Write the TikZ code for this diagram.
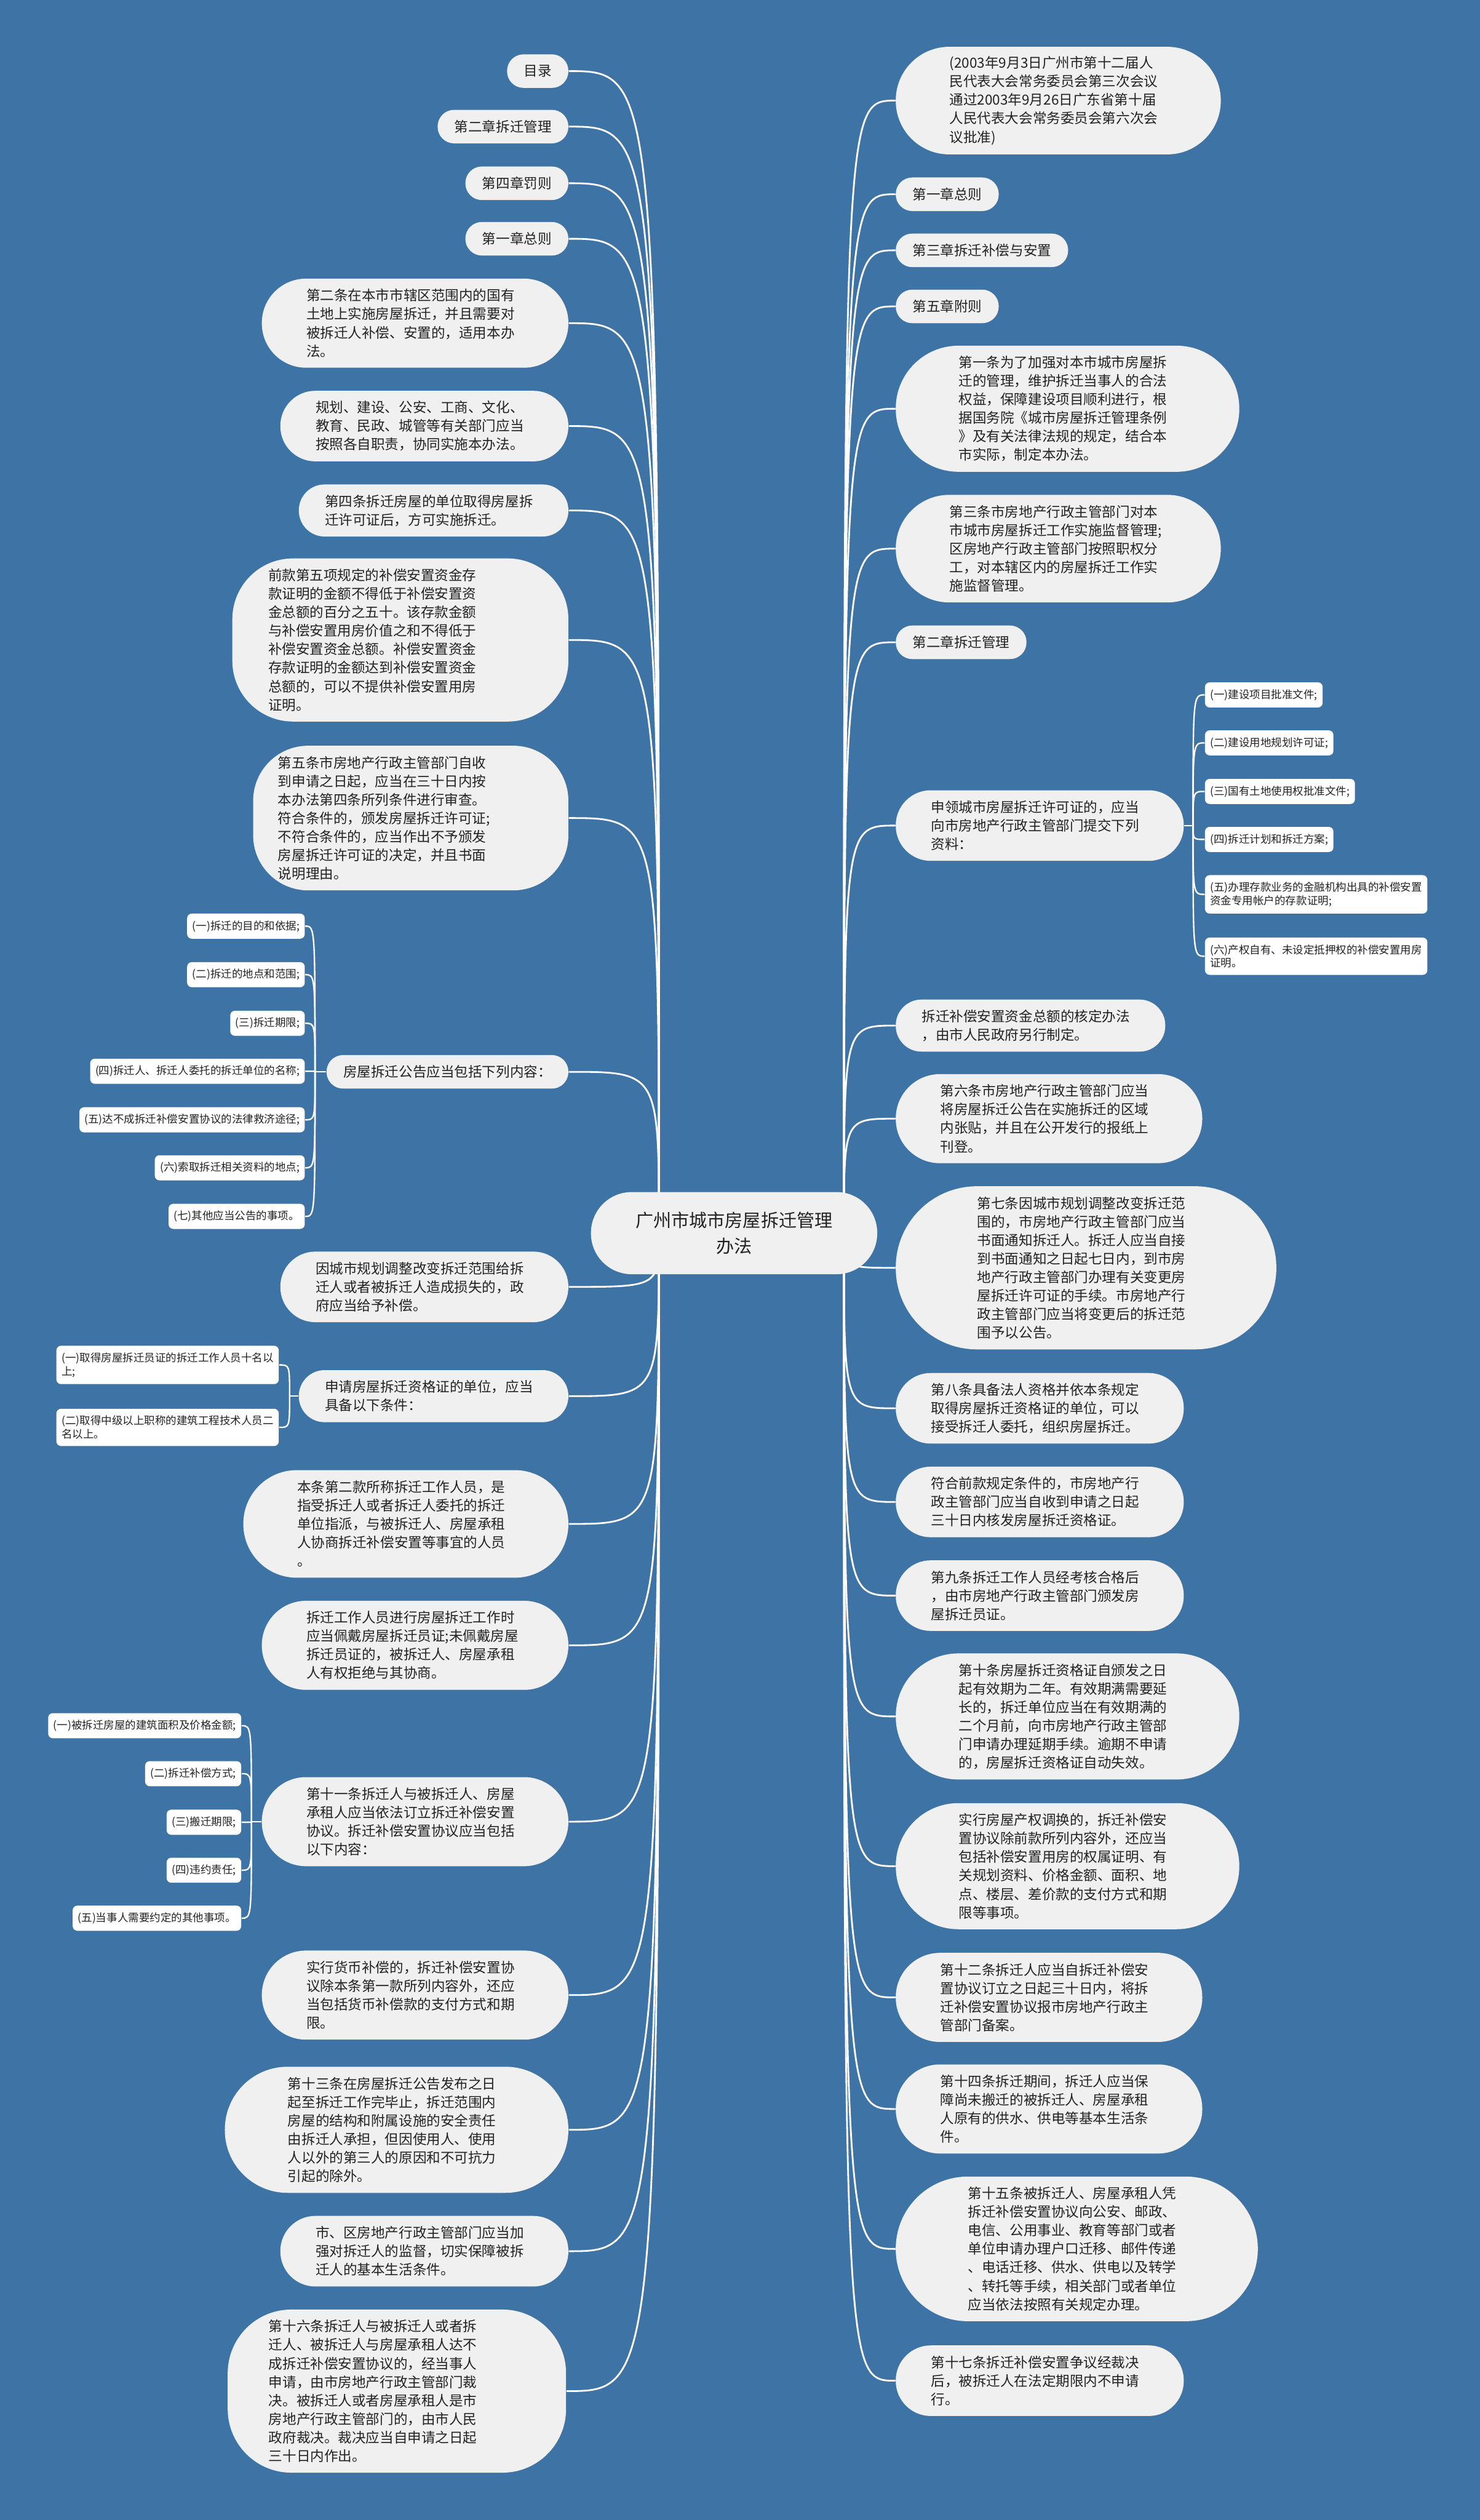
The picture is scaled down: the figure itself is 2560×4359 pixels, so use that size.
\documentclass[tikz,border=0pt]{standalone}
\usepackage{fontspec}
\setmainfont{Noto Sans CJK SC}
\usetikzlibrary{backgrounds}
\definecolor{mapblue}{RGB}{61,115,165}
\definecolor{topicfill}{RGB}{240,240,240}
\definecolor{topictext}{RGB}{34,34,34}
\tikzset{
  root/.style={rectangle, fill=topicfill, text=topictext, align=center, minimum height=1.42cm,
    rounded corners=0.705cm, inner xsep=0.77cm, inner ysep=0pt, font=\fontsize{8.82pt}{12.5pt}\selectfont},
  topic/.style={rectangle, fill=topicfill, text=topictext, align=left, inner ysep=0pt,
    font=\fontsize{6.83pt}{9.1pt}\selectfont},
  h1/.style={minimum height=0.58cm, rounded corners=0.285cm, inner xsep=0.29cm},
  h2/.style={minimum height=0.90cm, rounded corners=0.445cm, inner xsep=0.45cm, text width=3.76cm},
  h3/.style={minimum height=1.22cm, rounded corners=0.605cm, inner xsep=0.61cm, text width=3.76cm},
  h4/.style={minimum height=1.54cm, rounded corners=0.765cm, inner xsep=0.77cm, text width=3.76cm},
  h5/.style={minimum height=1.86cm, rounded corners=0.925cm, inner xsep=0.93cm, text width=3.76cm},
  h6/.style={minimum height=2.18cm, rounded corners=1.085cm, inner xsep=1.09cm, text width=3.76cm},
  h7/.style={minimum height=2.50cm, rounded corners=1.245cm, inner xsep=1.25cm, text width=3.76cm},
  h8/.style={minimum height=2.82cm, rounded corners=1.405cm, inner xsep=1.41cm, text width=3.76cm},
  ltopic/.style={topic, anchor=east, #1},
  rtopic/.style={topic, anchor=west, #1},
  leaf/.style={rectangle, rounded corners=0.08cm, fill=white, text=topictext, align=left,
    inner xsep=0.09cm, inner ysep=0.12cm, font=\fontsize{5.3pt}{6.55pt}\selectfont},
  lleaf/.style={leaf, anchor=east},
  rleaf/.style={leaf, anchor=west},
  link/.style={draw=white, line width=0.03cm},
  twig/.style={draw=white, line width=0.025cm}
}

\begin{document}
\begin{tikzpicture}[x=0.01cm, y=-0.01cm]
\useasboundingbox (0,0) rectangle (2560,4359);
\node[root] (root) at (1270,2133) {广州市城市房屋拆迁管理\\办法};

% left side
\node[ltopic=h1] (mulu) at (984,123) {目录};
\node[ltopic=h1] (zhangerl) at (984,219) {第二章拆迁管理};
\node[ltopic=h1] (zhangsi) at (984,317) {第四章罚则};
\node[ltopic=h1] (zhangyil) at (984,413) {第一章总则};
\node[ltopic=h4] (tiaoer) at (984,559) {第二条在本市市辖区范围内的国有\\土地上实施房屋拆迁，并且需要对\\被拆迁人补偿、安置的，适用本办\\法。};
\node[ltopic=h3] (guihua) at (984,737) {规划、建设、公安、工商、文化、\\教育、民政、城管等有关部门应当\\按照各自职责，协同实施本办法。};
\node[ltopic=h2] (tiaosi) at (984,883) {第四条拆迁房屋的单位取得房屋拆\\迁许可证后，方可实施拆迁。};
\node[ltopic={h8, inner xsep=0.62cm, text width=4.57cm, rounded corners=1.05cm}] (qiankuan) at (984,1107) {前款第五项规定的补偿安置资金存\\款证明的金额不得低于补偿安置资\\金总额的百分之五十。该存款金额\\与补偿安置用房价值之和不得低于\\补偿安置资金总额。补偿安置资金\\存款证明的金额达到补偿安置资金\\总额的，可以不提供补偿安置用房\\证明。};
\node[ltopic={h7, inner xsep=0.43cm, text width=4.59cm, rounded corners=0.95cm}] (tiaowu) at (984,1415) {第五条市房地产行政主管部门自收\\到申请之日起，应当在三十日内按\\本办法第四条所列条件进行审查。\\符合条件的，颁发房屋拆迁许可证;\\不符合条件的，应当作出不予颁发\\房屋拆迁许可证的决定，并且书面\\说明理由。};
\node[ltopic=h1] (gonggao) at (984,1854) {房屋拆迁公告应当包括下列内容：};
\node[lleaf] (gg1) at (528,1602) {(一)拆迁的目的和依据;};
\node[lleaf] (gg2) at (528,1686) {(二)拆迁的地点和范围;};
\node[lleaf] (gg3) at (528,1770) {(三)拆迁期限;};
\node[lleaf] (gg4) at (528,1853) {(四)拆迁人、拆迁人委托的拆迁单位的名称;};
\node[lleaf] (gg5) at (528,1937) {(五)达不成拆迁补偿安置协议的法律救济途径;};
\node[lleaf] (gg6) at (528,2020) {(六)索取拆迁相关资料的地点;};
\node[lleaf] (gg7) at (528,2104) {(七)其他应当公告的事项。};
\node[ltopic=h3] (yinchengshi) at (984,2226) {因城市规划调整改变拆迁范围给拆\\迁人或者被拆迁人造成损失的，政\\府应当给予补偿。};
\node[ltopic=h2] (shenqing) at (984,2415) {申请房屋拆迁资格证的单位，应当\\具备以下条件：};
\node[lleaf] (zg1) at (483,2361) {(一)取得房屋拆迁员证的拆迁工作人员十名以\\上;};
\node[lleaf] (zg2) at (483,2469) {(二)取得中级以上职称的建筑工程技术人员二\\名以上。};
\node[ltopic=h5] (benkuan) at (984,2636) {本条第二款所称拆迁工作人员，是\\指受拆迁人或者拆迁人委托的拆迁\\单位指派，与被拆迁人、房屋承租\\人协商拆迁补偿安置等事宜的人员\\。};
\node[ltopic=h4] (gongzuo) at (984,2846) {拆迁工作人员进行房屋拆迁工作时\\应当佩戴房屋拆迁员证;未佩戴房屋\\拆迁员证的，被拆迁人、房屋承租\\人有权拒绝与其协商。};
\node[ltopic=h4] (tiaoshiyi) at (984,3151) {第十一条拆迁人与被拆迁人、房屋\\承租人应当依法订立拆迁补偿安置\\协议。拆迁补偿安置协议应当包括\\以下内容：};
\node[lleaf] (xy1) at (418,2985) {(一)被拆迁房屋的建筑面积及价格金额;};
\node[lleaf] (xy2) at (418,3068) {(二)拆迁补偿方式;};
\node[lleaf] (xy3) at (418,3152) {(三)搬迁期限;};
\node[lleaf] (xy4) at (418,3235) {(四)违约责任;};
\node[lleaf] (xy5) at (418,3318) {(五)当事人需要约定的其他事项。};
\node[ltopic=h4] (huobi) at (984,3451) {实行货币补偿的，拆迁补偿安置协\\议除本条第一款所列内容外，还应\\当包括货币补偿款的支付方式和期\\限。};
\node[ltopic=h6] (tiaoshisan) at (984,3684) {第十三条在房屋拆迁公告发布之日\\起至拆迁工作完毕止，拆迁范围内\\房屋的结构和附属设施的安全责任\\由拆迁人承担，但因使用人、使用\\人以外的第三人的原因和不可抗力\\引起的除外。};
\node[ltopic=h3] (jianguan) at (984,3894) {市、区房地产行政主管部门应当加\\强对拆迁人的监督，切实保障被拆\\迁人的基本生活条件。};
\node[ltopic={h8, inner xsep=0.71cm, text width=4.43cm, rounded corners=1.1cm}] (tiaoshiliu) at (980,4136) {第十六条拆迁人与被拆迁人或者拆\\迁人、被拆迁人与房屋承租人达不\\成拆迁补偿安置协议的，经当事人\\申请，由市房地产行政主管部门裁\\决。被拆迁人或者房屋承租人是市\\房地产行政主管部门的，由市人民\\政府裁决。裁决应当自申请之日起\\三十日内作出。};

% right side
\node[rtopic=h5] (pizhun) at (1549,174) {(2003年9月3日广州市第十二届人\\民代表大会常务委员会第三次会议\\通过2003年9月26日广东省第十届\\人民代表大会常务委员会第六次会\\议批准)};
\node[rtopic=h1] (zhangyir) at (1549,336) {第一章总则};
\node[rtopic=h1] (zhangsan) at (1549,433) {第三章拆迁补偿与安置};
\node[rtopic=h1] (zhangwu) at (1549,530) {第五章附则};
\node[rtopic=h6] (tiaoyi) at (1549,707) {第一条为了加强对本市城市房屋拆\\迁的管理，维护拆迁当事人的合法\\权益，保障建设项目顺利进行，根\\据国务院《城市房屋拆迁管理条例\\》及有关法律法规的规定，结合本\\市实际，制定本办法。};
\node[rtopic=h5] (tiaosan) at (1549,949) {第三条市房地产行政主管部门对本\\市城市房屋拆迁工作实施监督管理;\\区房地产行政主管部门按照职权分\\工，对本辖区内的房屋拆迁工作实\\施监督管理。};
\node[rtopic=h1] (zhangerr) at (1549,1111) {第二章拆迁管理};
\node[rtopic=h3] (shenling) at (1549,1428) {申领城市房屋拆迁许可证的，应当\\向市房地产行政主管部门提交下列\\资料：};
\node[rleaf] (sl1) at (2084,1202) {(一)建设项目批准文件;};
\node[rleaf] (sl2) at (2084,1285) {(二)建设用地规划许可证;};
\node[rleaf] (sl3) at (2084,1369) {(三)国有土地使用权批准文件;};
\node[rleaf] (sl4) at (2084,1452) {(四)拆迁计划和拆迁方案;};
\node[rleaf] (sl5) at (2084,1547) {(五)办理存款业务的金融机构出具的补偿安置\\资金专用帐户的存款证明;};
\node[rleaf] (sl6) at (2084,1654) {(六)产权自有、未设定抵押权的补偿安置用房\\证明。};
\node[rtopic=h2] (heding) at (1549,1774) {拆迁补偿安置资金总额的核定办法\\，由市人民政府另行制定。};
\node[rtopic=h4] (tiaoliu) at (1549,1935) {第六条市房地产行政主管部门应当\\将房屋拆迁公告在实施拆迁的区域\\内张贴，并且在公开发行的报纸上\\刊登。};
\node[rtopic=h8] (tiaoqi) at (1549,2193) {第七条因城市规划调整改变拆迁范\\围的，市房地产行政主管部门应当\\书面通知拆迁人。拆迁人应当自接\\到书面通知之日起七日内，到市房\\地产行政主管部门办理有关变更房\\屋拆迁许可证的手续。市房地产行\\政主管部门应当将变更后的拆迁范\\围予以公告。};
\node[rtopic=h3] (tiaoba) at (1549,2436) {第八条具备法人资格并依本条规定\\取得房屋拆迁资格证的单位，可以\\接受拆迁人委托，组织房屋拆迁。};
\node[rtopic=h3] (fuhe) at (1549,2598) {符合前款规定条件的，市房地产行\\政主管部门应当自收到申请之日起\\三十日内核发房屋拆迁资格证。};
\node[rtopic=h3] (tiaojiu) at (1549,2760) {第九条拆迁工作人员经考核合格后\\，由市房地产行政主管部门颁发房\\屋拆迁员证。};
\node[rtopic=h6] (tiaoshi) at (1549,2969) {第十条房屋拆迁资格证自颁发之日\\起有效期为二年。有效期满需要延\\长的，拆迁单位应当在有效期满的\\二个月前，向市房地产行政主管部\\门申请办理延期手续。逾期不申请\\的，房屋拆迁资格证自动失效。};
\node[rtopic=h6] (chanquan) at (1549,3228) {实行房屋产权调换的，拆迁补偿安\\置协议除前款所列内容外，还应当\\包括补偿安置用房的权属证明、有\\关规划资料、价格金额、面积、地\\点、楼层、差价款的支付方式和期\\限等事项。};
\node[rtopic=h4] (tiaoshier) at (1549,3455) {第十二条拆迁人应当自拆迁补偿安\\置协议订立之日起三十日内，将拆\\迁补偿安置协议报市房地产行政主\\管部门备案。};
\node[rtopic=h4] (tiaoshisi) at (1549,3648) {第十四条拆迁期间，拆迁人应当保\\障尚未搬迁的被拆迁人、房屋承租\\人原有的供水、供电等基本生活条\\件。};
\node[rtopic=h7] (tiaoshiwu) at (1549,3890) {第十五条被拆迁人、房屋承租人凭\\拆迁补偿安置协议向公安、邮政、\\电信、公用事业、教育等部门或者\\单位申请办理户口迁移、邮件传递\\、电话迁移、供水、供电以及转学\\、转托等手续，相关部门或者单位\\应当依法按照有关规定办理。};
\node[rtopic=h3] (tiaoshiqi) at (1549,4118) {第十七条拆迁补偿安置争议经裁决\\后，被拆迁人在法定期限内不申请\\行。};

% junctions
\coordinate (rl) at (1140,2133);
\coordinate (rr) at (1460,2133);
\coordinate (ggj) at (545,1854);
\coordinate (zgj) at (501,2415);
\coordinate (xyj) at (435,3151);
\coordinate (slj) at (2064,1428);

\begin{scope}[on background layer]
\fill[mapblue] (0,0) rectangle (2560,4359);
\foreach \n in {mulu,zhangerl,zhangsi,zhangyil,tiaoer,guihua,tiaosi,qiankuan,tiaowu,gonggao,yinchengshi,shenqing,benkuan,gongzuo,tiaoshiyi,huobi,tiaoshisan,jianguan,tiaoshiliu}
  \draw[link] (rl) .. controls (rl |- \n.east) .. (\n.east);
\foreach \n in {pizhun,zhangyir,zhangsan,zhangwu,tiaoyi,tiaosan,zhangerr,shenling,heding,tiaoliu,tiaoqi,tiaoba,fuhe,tiaojiu,tiaoshi,chanquan,tiaoshier,tiaoshisi,tiaoshiwu,tiaoshiqi}
  \draw[link] (rr) .. controls (rr |- \n.west) .. (\n.west);
\draw[twig] (gonggao.west) -- (ggj);
\foreach \n in {gg1,gg2,gg3,gg4,gg5,gg6,gg7}
  \draw[twig] (ggj) .. controls (ggj |- \n.east) .. (\n.east);
\draw[twig] (shenqing.west) -- (zgj);
\foreach \n in {zg1,zg2}
  \draw[twig] (zgj) .. controls (zgj |- \n.east) .. (\n.east);
\draw[twig] (tiaoshiyi.west) -- (xyj);
\foreach \n in {xy1,xy2,xy3,xy4,xy5}
  \draw[twig] (xyj) .. controls (xyj |- \n.east) .. (\n.east);
\draw[twig] (shenling.east) -- (slj);
\foreach \n in {sl1,sl2,sl3,sl4,sl5,sl6}
  \draw[twig] (slj) .. controls (slj |- \n.west) .. (\n.west);
\end{scope}
\end{tikzpicture}
\end{document}
